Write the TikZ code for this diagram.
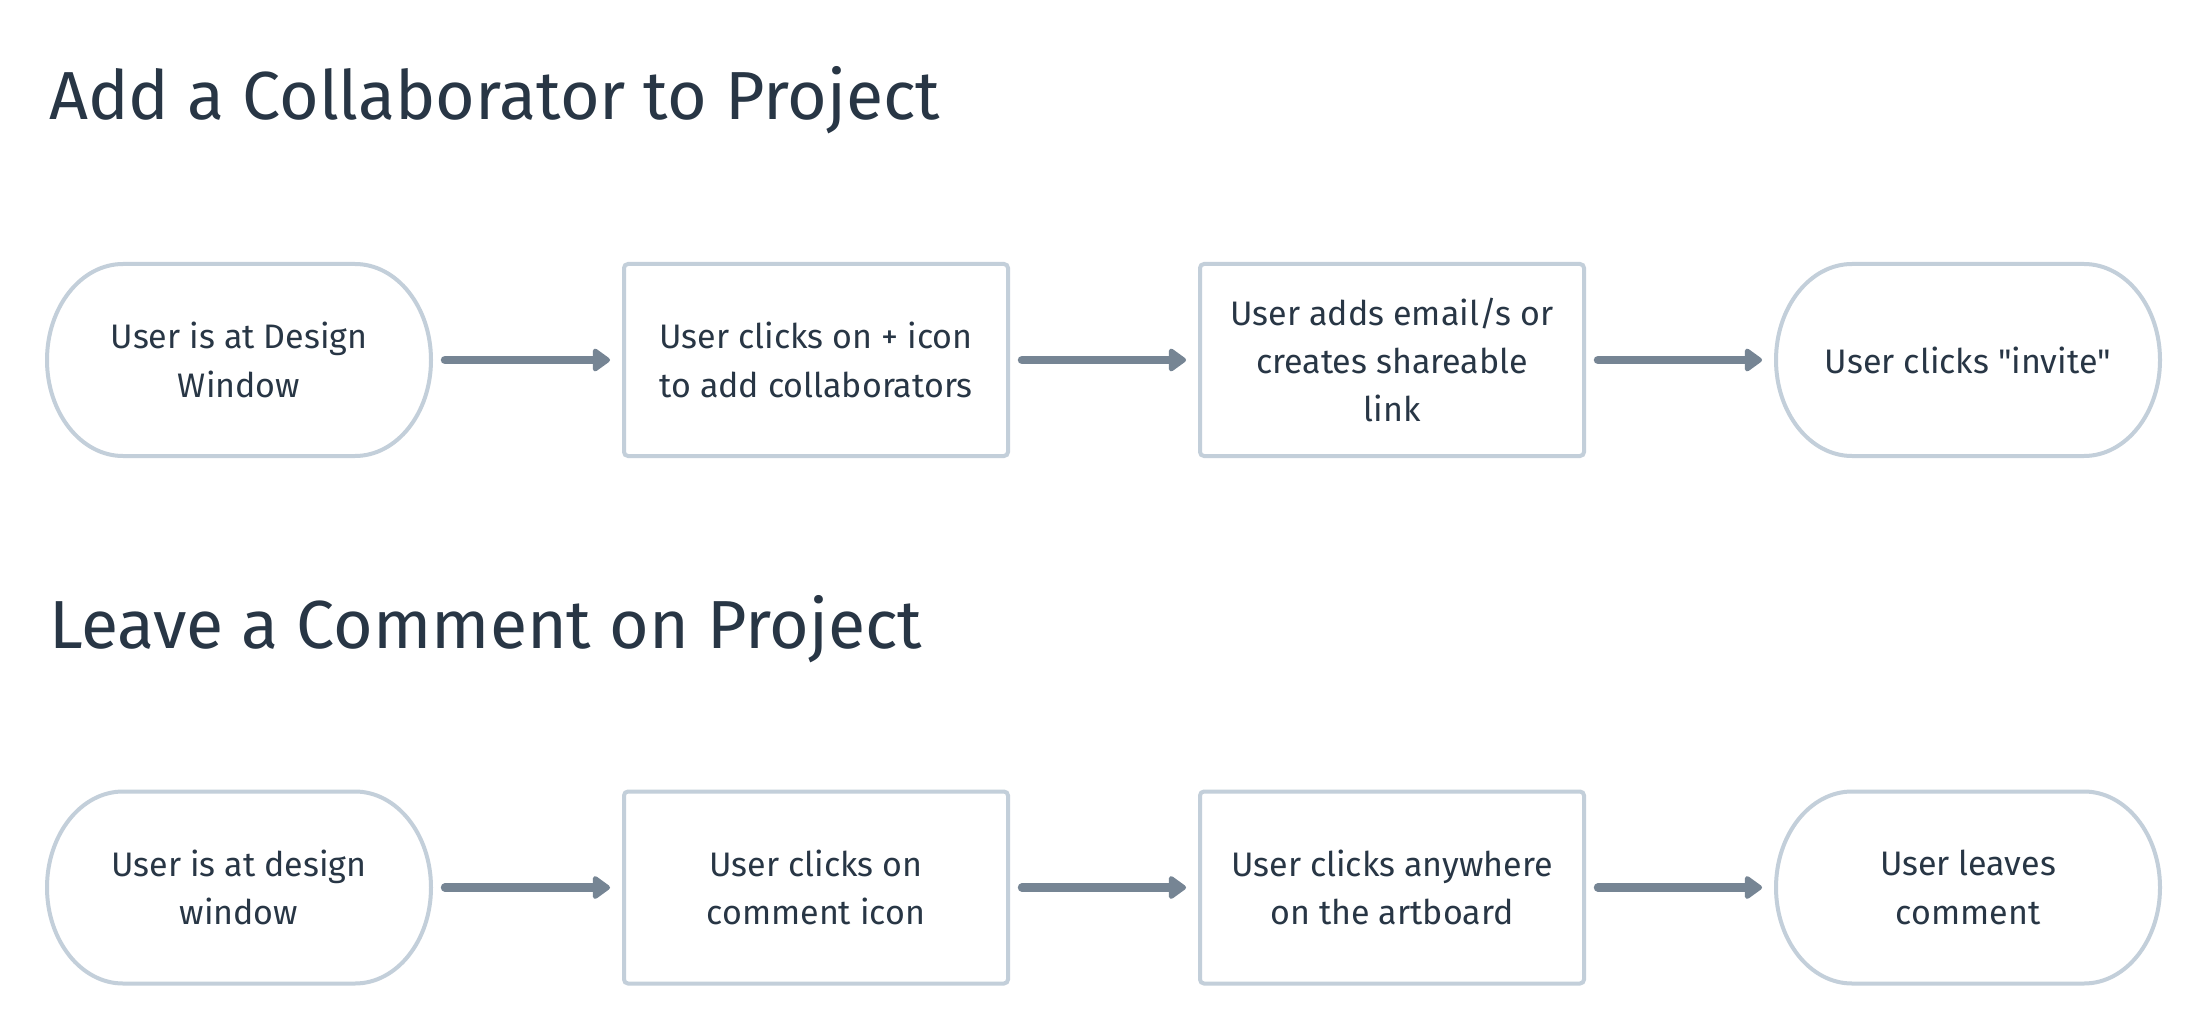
\documentclass[tikz,border=0pt]{standalone}
\usepackage{fontspec}
\setmainfont{Fira Sans}
\usetikzlibrary{arrows.meta}
\definecolor{ink}{HTML}{283645}
\definecolor{edge}{HTML}{C3CFDA}
\definecolor{flowc}{HTML}{768594}
\tikzset{
  boxnode/.style={draw=edge, line width=4pt, rounded corners=4pt, fill=white,
    minimum width=384pt, minimum height=192pt, inner sep=0pt, outer sep=0pt,
    align=center, text=ink, font=\fontsize{34}{48.4}\selectfont},
  termnode/.style={draw=none, minimum width=384pt, minimum height=192pt, inner sep=0pt, outer sep=0pt,
    align=center, text=ink, font=\fontsize{34}{48.4}\selectfont},
  titletext/.style={anchor=base west, inner sep=0pt, text=ink, font=\fontsize{68}{80}\selectfont},
  flow/.style={draw=flowc, line width=8.5pt, line cap=round, shorten <=14pt, shorten >=14pt,
    -{Triangle[length=19pt,width=26pt,round]}},
  stadium/.style={draw=edge, line width=4pt}
}
\newcommand{\stadiumoutline}[1]{%
  \draw[stadium] ([xshift=76pt]#1.north west) -- ([xshift=-76pt]#1.north east)
    arc[start angle=90,end angle=-90,x radius=76pt,y radius=96pt]
    -- ([xshift=76pt]#1.south west)
    arc[start angle=270,end angle=90,x radius=76pt,y radius=96pt] -- cycle;}
\begin{document}
\begin{tikzpicture}[x=1pt,y=-1pt]
\useasboundingbox[fill=white] (0,0) rectangle (2208,1032);
\node[titletext] (t1) at (49,120) {Add a Collaborator to Project};
\node[titletext] (t2) at (49,648) {Leave a Comment on Project};
% row 1
\node[termnode] (a1) at (239,360) {User is at Design\\Window};
\node[boxnode] (a2) at (816,360) {User clicks on + icon\\to add collaborators};
\node[boxnode] (a3) at (1392,360) {User adds email/s or\\creates shareable\\link};
\node[termnode] (a4) at (1968,360) {User clicks \textquotedbl invite\textquotedbl};
\stadiumoutline{a1}
\stadiumoutline{a4}
\draw[flow] (a1.east) -- (a2.west);
\draw[flow] (a2.east) -- (a3.west);
\draw[flow] (a3.east) -- (a4.west);
% row 2
\node[termnode] (b1) at (239,887.5) {User is at design\\window};
\node[boxnode] (b2) at (816,887.5) {User clicks on\\comment icon};
\node[boxnode] (b3) at (1392,887.5) {User clicks anywhere\\on the artboard};
\node[termnode] (b4) at (1968,887.5) {User leaves\\comment};
\stadiumoutline{b1}
\stadiumoutline{b4}
\draw[flow] (b1.east) -- (b2.west);
\draw[flow] (b2.east) -- (b3.west);
\draw[flow] (b3.east) -- (b4.west);
\end{tikzpicture}
\end{document}
